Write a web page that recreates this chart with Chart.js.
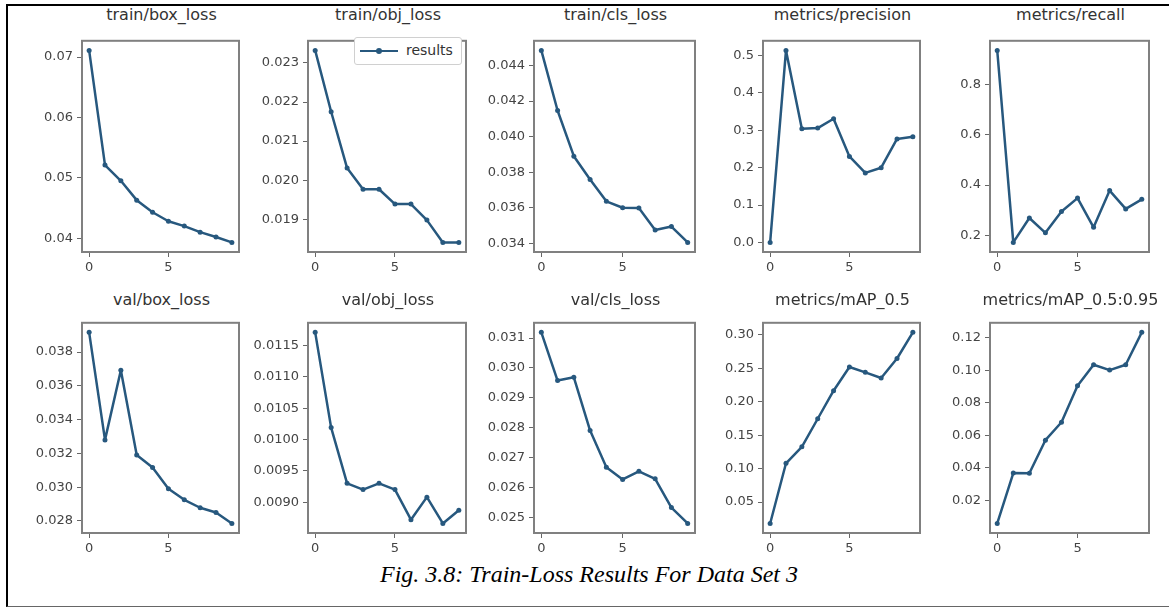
<!DOCTYPE html>
<html>
<head>
<meta charset="utf-8">
<title>Train-Loss Results For Data Set 3</title>
<script src="https://cdn.jsdelivr.net/npm/chart.js"></script>
<style>
  body { margin:0; background:#fff; width:1169px; height:607px; overflow:hidden; position:relative; font-family:"DejaVu Sans", sans-serif; }
  #frame { position:absolute; left:6px; top:4px; width:1200px; height:600px; border-left:2px solid #000; border-top:2px solid #000; border-bottom:1px solid #666; }
  canvas { position:absolute; }
  .ttl { position:absolute; font-size:16px; line-height:19px; color:#333; white-space:nowrap; transform:translateX(-50%); }
  #legend { position:absolute; left:354px; top:37px; width:106px; height:26px; border:1px solid #d0d0d0; border-radius:3px; background:#fff; }
  #legend .ln { position:absolute; left:5px; top:12px; width:38px; height:2px; background:#27587e; }
  #legend .dot { position:absolute; left:21px; top:10px; width:6px; height:6px; border-radius:50%; background:#27587e; }
  #legend .tx { position:absolute; left:51px; top:4px; font-size:14px; color:#333; }
  #caption { position:absolute; left:0; width:1178px; top:560px; text-align:center; font-family:"Liberation Serif", serif; font-style:italic; font-size:24px; line-height:28px; color:#000; }
</style>
</head>
<body>
<div id="frame"></div>
<div id="caption">Fig. 3.8: Train-Loss Results For Data Set 3</div>

<script>
  // epochs
  var epochs = [0, 1, 2, 3, 4, 5, 6, 7, 8, 9];
  var xTicks = ['0', '5'];

  // series
  var trainBoxLoss = [0.0711, 0.0521, 0.0495, 0.0463, 0.0443, 0.0428, 0.0420, 0.0410, 0.0402, 0.0393];
  var trainObjLoss = [0.02332, 0.02175, 0.02031, 0.01977, 0.01977, 0.01939, 0.01939, 0.01898, 0.01841, 0.01841];
  var trainClsLoss = [0.04485, 0.04147, 0.0389, 0.03759, 0.03636, 0.0360, 0.03598, 0.03475, 0.03494, 0.03405];
  var precision   = [0.0, 0.514, 0.304, 0.306, 0.331, 0.230, 0.186, 0.200, 0.277, 0.283];
  var recall      = [0.935, 0.172, 0.269, 0.210, 0.295, 0.348, 0.232, 0.378, 0.305, 0.343];
  var valBoxLoss  = [0.03917, 0.0328, 0.03693, 0.0319, 0.03116, 0.0299, 0.02925, 0.02878, 0.0285, 0.02785];
  var valObjLoss  = [0.01171, 0.01019, 0.0093, 0.0092, 0.0093, 0.0092, 0.00872, 0.00908, 0.00866, 0.00887];
  var valClsLoss  = [0.03119, 0.02958, 0.02969, 0.02791, 0.02669, 0.02628, 0.02655, 0.02630, 0.02534, 0.02481];
  var mAP50       = [0.018, 0.108, 0.1326, 0.1746, 0.2165, 0.252, 0.244, 0.2355, 0.2647, 0.3038];
  var mAP5095     = [0.0059, 0.0369, 0.0368, 0.0571, 0.0681, 0.0905, 0.1035, 0.1002, 0.1035, 0.1234];

  // y tick labels
  var ticksTrainBox = ['0.04', '0.05', '0.06', '0.07'];
  var ticksTrainObj = ['0.019', '0.020', '0.021', '0.022', '0.023'];
  var ticksTrainCls = ['0.034', '0.036', '0.038', '0.040', '0.042', '0.044'];
  var ticksPrec     = ['0.0', '0.1', '0.2', '0.3', '0.4', '0.5'];
  var ticksRecall   = ['0.2', '0.4', '0.6', '0.8'];
  var ticksValBox   = ['0.028', '0.030', '0.032', '0.034', '0.036', '0.038'];
  var ticksValObj   = ['0.0090', '0.0095', '0.0100', '0.0105', '0.0110', '0.0115'];
  var ticksValCls   = ['0.025', '0.026', '0.027', '0.028', '0.029', '0.030', '0.031'];
  var ticksMAP50    = ['0.05', '0.10', '0.15', '0.20', '0.25', '0.30'];
  var ticksMAP5095  = ['0.02', '0.04', '0.06', '0.08', '0.10', '0.12'];

  var panels = [
    { title: 'train/box_loss',        data: trainBoxLoss, ticks: ticksTrainBox },
    { title: 'train/obj_loss',        data: trainObjLoss, ticks: ticksTrainObj },
    { title: 'train/cls_loss',        data: trainClsLoss, ticks: ticksTrainCls },
    { title: 'metrics/precision',     data: precision,    ticks: ticksPrec },
    { title: 'metrics/recall',        data: recall,       ticks: ticksRecall },
    { title: 'val/box_loss',          data: valBoxLoss,   ticks: ticksValBox },
    { title: 'val/obj_loss',          data: valObjLoss,   ticks: ticksValObj },
    { title: 'val/cls_loss',          data: valClsLoss,   ticks: ticksValCls },
    { title: 'metrics/mAP_0.5',       data: mAP50,        ticks: ticksMAP50 },
    { title: 'metrics/mAP_0.5:0.95',  data: mAP5095,      ticks: ticksMAP5095 }
  ];

  // plot box positions (left,right) per column and (top,bottom) per row
  var cols = [[82, 241], [308, 468], [534, 697], [763, 922], [990, 1151]];
  var rows = [[31, 252], [313, 533]];
  var titleY = [15, 300];

  var lineColor = '#27587e';
  var tickFont = { family: 'DejaVu Sans', size: 13 };
  var tickColor = '#444';
  var YW = 70, XH = 30;

  var framePlugin = {
    id: 'frame',
    afterDraw: function(chart) {
      var a = chart.chartArea, c = chart.ctx;
      c.save();
      c.strokeStyle = '#808080';
      c.lineWidth = 2;
      c.strokeRect(a.left, a.top, a.right - a.left, a.bottom - a.top);
      c.restore();
    }
  };

  panels.forEach(function(p, i) {
    var col = cols[i % 5], row = rows[Math.floor(i / 5)];
    var L = col[0], R = col[1], T = row[0], B = row[1];

    var t = document.createElement('div');
    t.className = 'ttl';
    t.textContent = p.title;
    t.style.left = ((L + R) / 2) + 'px';
    t.style.top = (titleY[Math.floor(i / 5)] - 10) + 'px';
    document.body.appendChild(t);

    var cv = document.createElement('canvas');
    cv.width = R - L + YW + 2;
    cv.height = B - T + XH + 2;
    cv.style.left = (L - YW) + 'px';
    cv.style.top = (T - 2) + 'px';
    document.body.appendChild(cv);

    var lo = Math.min.apply(null, p.data), hi = Math.max.apply(null, p.data);
    var m = (hi - lo) * 0.05;
    var tickVals = p.ticks.map(Number);

    new Chart(cv.getContext('2d'), {
      type: 'line',
      data: {
        datasets: [{
          label: 'results',
          data: epochs.map(function(e, k) { return { x: e, y: p.data[k] }; }),
          borderColor: lineColor,
          backgroundColor: lineColor,
          borderWidth: 2.5,
          borderJoinStyle: 'round',
          borderCapStyle: 'round',
          pointRadius: 2.5,
          pointBorderWidth: 0,
          tension: 0
        }]
      },
      options: {
        responsive: false,
        animation: false,
        layout: { padding: { top: 2, right: 2, left: 0, bottom: 0 } },
        plugins: { legend: { display: false }, tooltip: { enabled: false } },
        scales: {
          x: {
            type: 'linear',
            min: -0.45,
            max: 9.45,
            afterFit: function(s) { s.height = XH; },
            afterBuildTicks: function(s) { s.ticks = xTicks.map(function(v) { return { value: Number(v) }; }); },
            grid: { drawOnChartArea: false, drawTicks: true, tickLength: 5, color: '#666' },
            border: { display: false },
            ticks: { font: tickFont, color: tickColor, padding: 3, autoSkip: false, maxRotation: 0,
                     callback: function(v) { return xTicks[xTicks.map(Number).indexOf(v)]; } }
          },
          y: {
            type: 'linear',
            min: lo - m,
            max: hi + m,
            afterFit: function(s) { s.width = YW; },
            afterBuildTicks: function(s) { s.ticks = tickVals.map(function(v) { return { value: v }; }); },
            grid: { drawOnChartArea: false, drawTicks: true, tickLength: 5, color: '#666' },
            border: { display: false },
            ticks: { font: tickFont, color: tickColor, padding: 4, autoSkip: false,
                     callback: function(v) { return p.ticks[tickVals.indexOf(v)]; } }
          }
        }
      },
      plugins: [framePlugin]
    });
  });
</script>

<div id="legend"><span class="ln"></span><span class="dot"></span><span class="tx">results</span></div>
</body>
</html>
